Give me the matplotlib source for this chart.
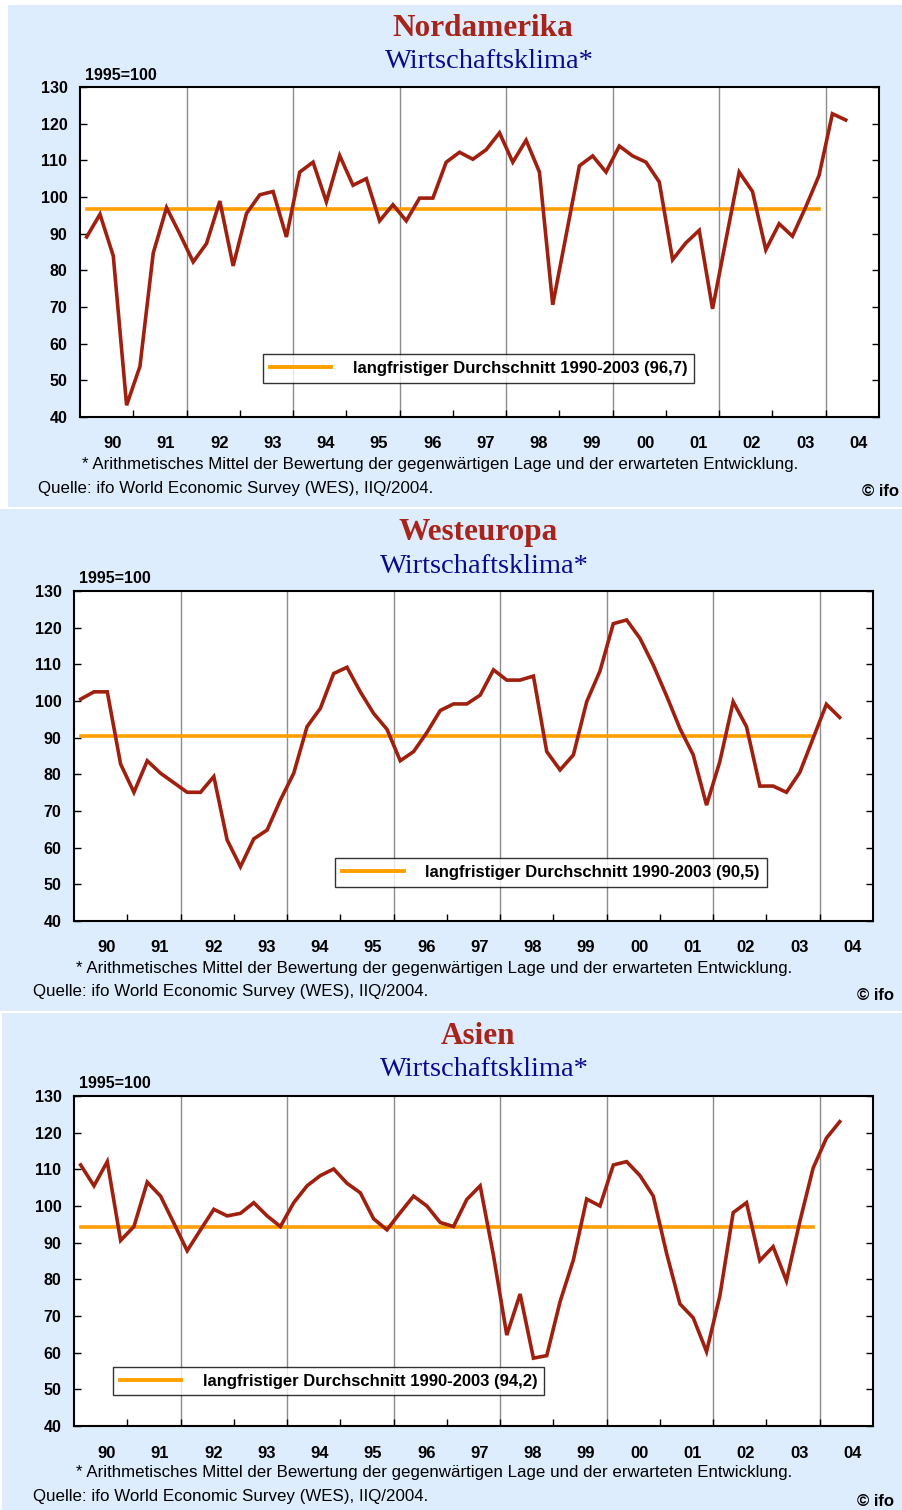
import numpy as np
import matplotlib.pyplot as plt
from matplotlib.patches import Rectangle
import matplotlib.transforms as mtransforms

plt.rcParams['font.family'] = ['Liberation Sans', 'DejaVu Sans']

W, H = 903, 1510

years = ['90', '91', '92', '93', '94', '95', '96', '97', '98', '99', '00', '01', '02', '03', '04']

# quarterly values 1990Q1 .. 2004Q2
nordamerika = [89.1, 95.3, 83.9, 43.2, 53.8, 84.7, 97.1, 89.9, 82.3, 87.3,
               98.9, 81.2, 95.5, 100.6, 101.5, 89.1, 106.8, 109.5, 98.7, 111.3,
               103.2, 105.0, 93.5, 97.9, 93.5, 99.7, 99.7, 109.5, 112.2, 110.3,
               112.9, 117.5, 109.5, 115.5, 106.8, 70.6, 89.5, 108.5, 111.2, 106.8,
               113.9, 111.2, 109.5, 104.1, 82.9, 87.5, 90.9, 69.5, 88.2, 106.8,
               101.5, 85.6, 92.7, 89.3, 97.3, 105.9, 122.7, 121.0]
westeuropa = [100.5, 102.5, 102.5, 82.8, 75.1, 83.7, 80.3, 77.7, 75.1, 75.1,
              79.4, 62.1, 54.8, 62.4, 64.8, 73.0, 80.3, 93.0, 98.0, 107.5,
              109.2, 102.5, 96.6, 92.3, 83.7, 86.2, 91.4, 97.4, 99.2, 99.2,
              101.6, 108.5, 105.7, 105.7, 106.8, 86.2, 81.2, 85.3, 99.8, 108.2,
              121.1, 122.1, 117.1, 109.8, 101.4, 92.5, 85.3, 71.6, 83.5, 99.8,
              93.0, 76.8, 76.8, 75.1, 80.5, 89.8, 99.1, 95.5]
asien = [111.2, 105.5, 112.1, 90.6, 94.4, 106.5, 102.7, 95.3, 87.8, 93.5,
         99.1, 97.3, 98.0, 100.9, 97.3, 94.4, 100.9, 105.5, 108.3, 110.1,
         106.2, 103.6, 96.5, 93.5, 98.2, 102.7, 100.0, 95.5, 94.4, 101.8,
         105.5, 86.5, 64.8, 76.0, 58.5, 59.2, 73.9, 85.3, 101.9, 100.0,
         111.2, 112.1, 108.3, 102.7, 87.1, 73.3, 69.5, 60.3, 75.5, 98.2,
         100.9, 85.1, 88.9, 79.6, 95.7, 110.3, 118.5, 123.0]

averages = [96.7, 90.5, 94.2]
avg_labels = ['langfristiger Durchschnitt 1990-2003 (96,7)',
              'langfristiger Durchschnitt 1990-2003 (90,5)',
              'langfristiger Durchschnitt 1990-2003 (94,2)']
titles = ['Nordamerika', 'Westeuropa', 'Asien']

BG = '#DDEDFD'
RED_TITLE = '#A8231A'
NAVY = '#0A0A8C'
LINE = '#A0200F'
ORANGE = '#FF9F00'

# pixel layout for each panel: background box, plot box, text offsets
panels = [
    dict(bg=(8, 5, 903, 507), plot=(80, 87, 879, 417), title=(483, 28), sub=(489, 62),
         quelle=38, ifo=862, legend=(0.499, 0.147)),
    dict(bg=(0, 509, 903, 1011), plot=(74, 591, 873, 921), title=(478, 532), sub=(484, 566),
         quelle=33, ifo=857, legend=(0.597, 0.147)),
    dict(bg=(2, 1013, 903, 1510), plot=(74, 1096, 873, 1426), title=(478, 1036), sub=(484, 1070),
         quelle=33, ifo=857, legend=(0.3185, 0.136)),
]
series = [nordamerika, westeuropa, asien]

fig = plt.figure(figsize=(W / 100, H / 100), dpi=100)
fig.patch.set_facecolor('white')


def fx(x):
    return x / W


def fy(y):
    return 1 - y / H


for p, vals, avg, lab, title in zip(panels, series, averages, avg_labels, titles):
    x0, y0, x1, y1 = p['bg']
    fig.patches.append(Rectangle((fx(x0), fy(y1)), (x1 - x0) / W, (y1 - y0) / H,
                                 transform=fig.transFigure, facecolor=BG,
                                 edgecolor='none', zorder=-5))
    l, t, r, b = p['plot']
    ax = fig.add_axes([fx(l), fy(b), (r - l) / W, (b - t) / H])
    ax.set_zorder(2)
    ax.set_facecolor('white')

    q = np.arange(len(vals))
    ax.plot(q, vals, color=LINE, lw=2.6, zorder=4, solid_joinstyle='miter')
    ax.plot(q[:56], [avg] * 56, color=ORANGE, lw=2.6, zorder=3, label=lab)

    ax.set_xlim(-0.5, 59.5)
    ax.set_ylim(40, 130)
    ax.set_yticks(np.arange(40, 131, 10))
    ax.tick_params(axis='y', which='major', direction='in', length=5, width=1,
                   left=True, right=True, labelsize=11.5, pad=9)
    for t_ in ax.get_yticklabels():
        t_.set_fontweight('bold')
    bounds = -0.5 + 4 * np.arange(1, 15)
    ax.set_xticks(bounds)
    ax.set_xticklabels([])
    ax.tick_params(axis='x', direction='in', length=5, width=1)
    for k, bx in enumerate(bounds):
        if (k + 1) % 2 == 0:
            ax.axvline(bx, color='#8C8C8C', lw=1, zorder=1)
    for s in ax.spines.values():
        s.set_linewidth(1.5)

    trans = mtransforms.blended_transform_factory(ax.transData, ax.transAxes)
    for k, yl in enumerate(years):
        ax.text(-0.5 + 4 * k + 2 + 0.45, -27 / 330, yl, transform=trans,
                ha='center', va='center', fontsize=12, fontweight='bold')

    leg = ax.legend(loc='center', bbox_to_anchor=p['legend'], frameon=True,
                    fancybox=False, handlelength=3.7, handletextpad=1.3,
                    borderpad=0.4, prop={'weight': 'bold', 'size': 12})
    leg.get_frame().set_edgecolor('black')
    leg.get_frame().set_linewidth(1)
    leg.get_lines()[0].set_linewidth(2.8)

    fig.text(fx(p['title'][0]), fy(p['title'][1]), title, ha='center', va='center',
             family='Liberation Serif', fontweight='bold', fontsize=22.5, color=RED_TITLE)
    fig.text(fx(p['sub'][0]), fy(p['sub'][1]), 'Wirtschaftsklima*', ha='center', va='center',
             family='Liberation Serif', fontsize=20.5, color=NAVY)
    fig.text(fx(l + 5), fy(t - 12), '1995=100', ha='left', va='center',
             fontsize=11.5, fontweight='bold')
    fig.text(fx(l + 2), fy(b + 47),
             '* Arithmetisches Mittel der Bewertung der gegenwärtigen Lage und der erwarteten Entwicklung.',
             ha='left', va='center', fontsize=12.2)
    fig.text(fx(p['quelle']), fy(b + 71), 'Quelle: ifo World Economic Survey (WES), IIQ/2004.',
             ha='left', va='center', fontsize=12.2)
    fig.text(fx(p['ifo']), fy(b + 75), '© ifo', ha='left', va='center',
             fontsize=12, fontweight='bold')

fig.savefig('out.png', dpi=100)
